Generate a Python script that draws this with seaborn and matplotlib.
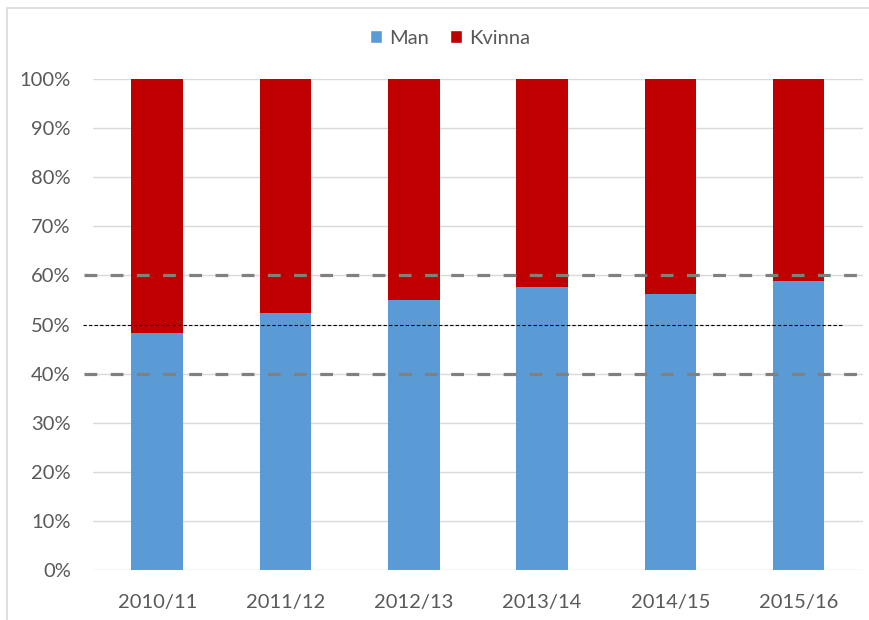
import matplotlib
matplotlib.use("Agg")
import matplotlib.pyplot as plt
from matplotlib.patches import Patch
from matplotlib.lines import Line2D
from matplotlib.ticker import PercentFormatter
import seaborn as sns
import pandas as pd

years = ["2010/11", "2011/12", "2012/13", "2013/14", "2014/15", "2015/16"]
man = [48.2, 52.4, 54.9, 57.7, 56.2, 58.8]
kvinna = [100 - m for m in man]
bounds = [40, 60]
midline = 50

df = pd.DataFrame({"year": years, "Man": man, "Kvinna": kvinna})
df["total"] = df["Man"] + df["Kvinna"]

sns.set_theme(style="white")
plt.rcParams["font.family"] = ["Lato", "DejaVu Sans"]

BLUE = "#5B9BD5"
RED = "#C00000"
TXT = "#595959"

fig = plt.figure(figsize=(8.7, 6.2), dpi=100)
ax = fig.add_axes([93 / 870, 1 - 570 / 620, 770 / 870, 491 / 620])

sns.barplot(data=df, x="year", y="total", color=RED, width=0.4, saturation=1,
            linewidth=0, ax=ax)
sns.barplot(data=df, x="year", y="Man", color=BLUE, width=0.4, saturation=1,
            linewidth=0, ax=ax)

ax.set_ylim(0, 100)
ax.set_xlim(-0.5, 5.5)
ax.set_yticks(range(0, 101, 10))
ax.yaxis.set_major_formatter(PercentFormatter(decimals=0))
ax.grid(axis="y", color="#d9d9d9", linewidth=1)
ax.set_axisbelow(True)
for s in ax.spines.values():
    s.set_visible(False)
ax.set_xlabel("")
ax.set_ylabel("")
ax.tick_params(axis="both", length=0, labelsize=14.5, colors=TXT)
ax.tick_params(axis="x", pad=17)
ax.tick_params(axis="y", pad=16)

for b in bounds:
    ax.add_line(Line2D([-0.57, 5.48], [b, b], color="#808080", linewidth=2.3,
                       dashes=(4, 4.2), clip_on=False, zorder=5))
ax.add_line(Line2D([-0.58, 5.34], [midline, midline], color="black", linewidth=0.8,
                   dashes=(3, 2), clip_on=False, zorder=6))

handles = [Patch(facecolor=BLUE, label="Man"), Patch(facecolor=RED, label="Kvinna")]
fig.legend(handles=handles, loc="center", bbox_to_anchor=(450 / 870, 1 - 38 / 620),
           ncol=2, frameon=False, fontsize=14.5, labelcolor=TXT,
           handlelength=0.6, handleheight=0.6, handletextpad=0.35, columnspacing=1.0)

# chart border (top and left visible)
fig.add_artist(Line2D([7 / 870, 1], [1 - 7.5 / 620, 1 - 7.5 / 620], color="#d9d9d9",
                      linewidth=1.2, transform=fig.transFigure))
fig.add_artist(Line2D([7.5 / 870, 7.5 / 870], [0, 1 - 7.5 / 620], color="#d9d9d9",
                      linewidth=1.2, transform=fig.transFigure))

fig.savefig("out.png", dpi=100)
